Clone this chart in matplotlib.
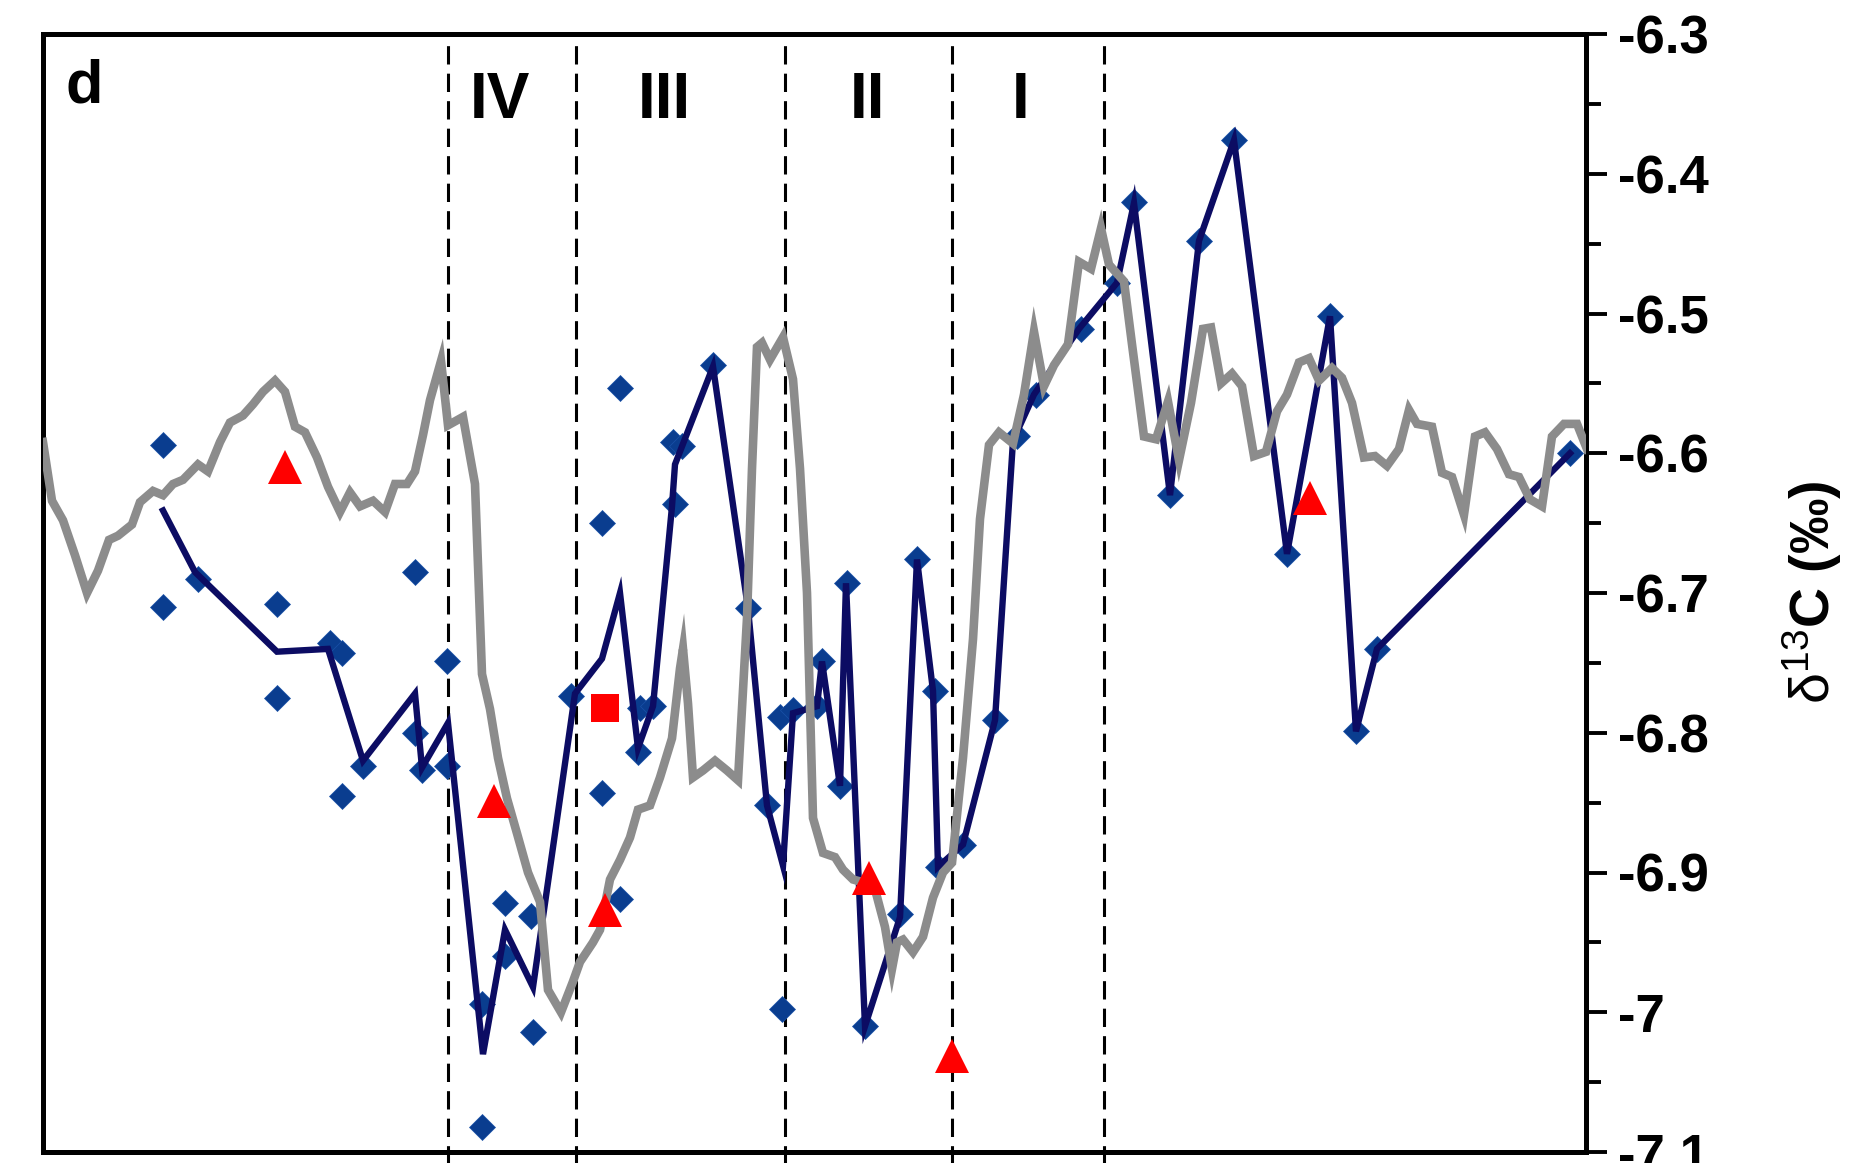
import matplotlib
matplotlib.use('Agg')
import matplotlib.pyplot as plt
from matplotlib.ticker import MultipleLocator, FuncFormatter

plt.rcParams['font.family'] = ['Liberation Sans', 'DejaVu Sans']
plt.rcParams['font.weight'] = 'bold'
plt.rcParams['axes.unicode_minus'] = False
plt.rcParams['mathtext.fontset'] = 'custom'
plt.rcParams['mathtext.rm'] = 'Liberation Sans:weight=normal'
plt.rcParams['mathtext.it'] = 'Liberation Sans:italic:weight=normal'
plt.rcParams['mathtext.bf'] = 'Liberation Sans:weight=bold'

# ---------------- data ----------------
gray_x = [0.0, 0.9, 2.0, 3.2, 4.4, 5.5, 6.6, 7.5, 8.9, 9.7,
          11.0, 12.0, 13.0, 14.0, 15.5, 16.5, 17.7, 18.7, 20.0, 21.0,
          22.0, 23.2, 24.2, 25.2, 26.2, 27.4, 28.5, 29.7, 30.7, 31.7,
          33.0, 34.2, 35.2, 36.4, 37.2, 38.0, 38.7, 39.8, 40.5, 42.0,
          43.2, 43.9, 44.7, 45.5, 46.4, 47.4, 48.5, 49.7, 50.5, 51.8,
          53.0, 53.7, 55.0, 55.7, 56.7, 57.7, 58.7, 59.5, 60.7, 61.7,
          62.9, 63.7, 64.0, 64.5, 65.0, 66.0, 67.2, 68.4, 69.5, 70.4,
          70.9, 71.4, 71.9, 72.7, 74.0, 75.0, 75.7, 76.4, 77.0, 78.0,
          79.2, 80.0, 81.0, 82.0, 83.2, 84.2, 84.9, 85.4, 86.0, 87.0,
          88.0, 89.0, 90.0, 90.9, 92.0, 93.0, 93.7, 94.6, 95.6, 97.0,
          98.1, 99.1, 100.1, 101.1, 102.5, 103.6, 104.8, 105.8, 106.6, 108.1,
          108.9, 110.1, 111.3, 112.5, 113.6, 114.8, 116.0, 116.8, 117.8, 118.9,
          119.9, 121.1, 122.3, 123.4, 124.4, 125.6, 126.6, 127.6, 128.9, 129.9,
          130.9, 132.1, 133.2, 134.4, 135.6, 136.6, 137.4, 138.9, 139.9, 140.9,
          142.1, 143.2, 144.2, 145.4, 146.6, 147.6, 148.7, 149.9, 150.9, 152.1,
          153.4, 154.4]
gray_y = [-6.592, -6.634, -6.648, -6.673, -6.700, -6.684, -6.662, -6.659, -6.651, -6.635,
          -6.627, -6.630, -6.622, -6.619, -6.608, -6.613, -6.592, -6.578, -6.573, -6.565,
          -6.556, -6.548, -6.556, -6.581, -6.585, -6.603, -6.624, -6.642, -6.628, -6.638,
          -6.634, -6.642, -6.622, -6.622, -6.613, -6.587, -6.562, -6.534, -6.580, -6.574,
          -6.622, -6.758, -6.783, -6.818, -6.847, -6.872, -6.900, -6.921, -6.984, -7.000,
          -6.978, -6.964, -6.950, -6.941, -6.905, -6.891, -6.875, -6.855, -6.852, -6.832,
          -6.804, -6.754, -6.740, -6.779, -6.832, -6.827, -6.820, -6.827, -6.834, -6.718,
          -6.611, -6.524, -6.521, -6.533, -6.517, -6.547, -6.611, -6.700, -6.861, -6.886,
          -6.889, -6.898, -6.905, -6.907, -6.912, -6.939, -6.969, -6.950, -6.948, -6.957,
          -6.946, -6.918, -6.900, -6.893, -6.818, -6.733, -6.647, -6.594, -6.585, -6.593,
          -6.558, -6.513, -6.552, -6.537, -6.522, -6.463, -6.468, -6.439, -6.465, -6.477,
          -6.522, -6.588, -6.590, -6.563, -6.605, -6.564, -6.511, -6.510, -6.550, -6.543,
          -6.552, -6.602, -6.599, -6.570, -6.558, -6.535, -6.532, -6.548, -6.539, -6.546,
          -6.564, -6.603, -6.602, -6.609, -6.597, -6.569, -6.579, -6.581, -6.614, -6.617,
          -6.644, -6.588, -6.585, -6.597, -6.615, -6.617, -6.633, -6.638, -6.588, -6.579,
          -6.579, -6.597]

navy_x = [12.0, 15.2, 23.4, 28.5, 32.0, 37.2, 37.9, 40.5, 44.0, 46.2,
          49.0, 53.2, 55.9, 57.7, 59.5, 61.0, 62.9, 63.2, 67.0, 70.5,
          72.4, 74.0, 75.0, 77.4, 77.9, 79.7, 80.3, 82.2, 85.7, 87.4,
          89.0, 89.5, 92.0, 95.2, 97.0, 99.1, 103.6, 107.4, 109.1, 112.7,
          115.6, 119.1, 124.4, 128.7, 131.3, 133.4, 152.7]
navy_y = [-6.641, -6.685, -6.742, -6.740, -6.820, -6.772, -6.825, -6.793, -7.030, -6.941,
          -6.982, -6.772, -6.747, -6.700, -6.811, -6.781, -6.638, -6.608, -6.538, -6.711,
          -6.852, -6.895, -6.786, -6.781, -6.749, -6.838, -6.693, -7.010, -6.932, -6.676,
          -6.770, -6.896, -6.880, -6.791, -6.591, -6.558, -6.511, -6.478, -6.421, -6.630,
          -6.448, -6.376, -6.672, -6.502, -6.799, -6.740, -6.600]

dia_x = [12.0, 12.0, 15.5, 23.4, 23.4, 28.7, 29.9, 29.9, 32.0, 37.2,
         37.2, 37.9, 40.4, 40.4, 43.9, 43.9, 46.2, 46.2, 48.8, 49.0,
         52.8, 55.9, 55.9, 57.7, 57.7, 59.5, 59.7, 61.0, 63.0, 63.9,
         63.2, 67.0, 70.5, 72.4, 73.9, 73.7, 75.0, 77.4, 77.9, 79.7,
         80.4, 82.2, 85.7, 87.4, 89.2, 89.5, 92.0, 95.2, 97.4, 99.3,
         103.8, 107.4, 109.1, 112.7, 115.6, 119.1, 124.4, 128.7, 131.3, 133.4,
         152.7]
dia_y = [-6.594, -6.710, -6.690, -6.708, -6.775, -6.736, -6.743, -6.845, -6.824, -6.685,
         -6.800, -6.827, -6.749, -6.824, -6.994, -7.082, -6.922, -6.960, -6.931, -7.014,
         -6.774, -6.650, -6.843, -6.553, -6.919, -6.814, -6.782, -6.781, -6.592, -6.595,
         -6.636, -6.537, -6.711, -6.852, -6.998, -6.789, -6.784, -6.781, -6.749, -6.838,
         -6.693, -7.010, -6.930, -6.676, -6.770, -6.896, -6.880, -6.791, -6.588, -6.558,
         -6.511, -6.478, -6.420, -6.630, -6.448, -6.376, -6.672, -6.502, -6.799, -6.740,
         -6.600]

tri_x = [24.2, 45.1, 56.2, 82.6, 90.9, 126.7]
tri_y = [-6.610, -6.849, -6.927, -6.904, -7.031, -6.632]

sq_x = [56.2]
sq_y = [-6.782]

boundaries = [40.5, 53.3, 74.2, 90.9, 106.1]
stage_labels = ['IV', 'III', 'II', 'I']
stage_x = [45.7, 62.1, 82.5, 97.8]

# ---------------- figure ----------------
W, H = 1857, 1163
fig = plt.figure(figsize=(W / 100, H / 100), dpi=100)
ax = fig.add_axes([43 / W, 1 - 1152 / H, (1586 - 43) / W, (1152 - 34) / H])

for b in boundaries:
    ax.axvline(b, ymin=-0.03, ymax=0.993, color='black', lw=2.2,
               linestyle=(0, (6.0, 3.0)), clip_on=False, zorder=1)

ax.plot(dia_x, dia_y, linestyle='none', marker='D', ms=13,
        color='#0a3d8f', mec='#1a52a8', mew=0.5, zorder=2)
ax.plot(navy_x, navy_y, color='#0c0c63', lw=4.6, zorder=3,
        solid_joinstyle='miter')
ax.plot(gray_x, gray_y, color='#8c8c8c', lw=6.2, zorder=4,
        solid_joinstyle='miter')
ax.plot(tri_x, tri_y, linestyle='none', marker='^', ms=25,
        color='#ff0000', mew=0, zorder=5)
ax.plot(sq_x, sq_y, linestyle='none', marker='s', ms=20,
        color='#ff0000', mew=0, zorder=5)

for lab, x in zip(stage_labels, stage_x):
    ax.text(x, 0.9405, lab, transform=ax.get_xaxis_transform(),
            ha='center', va='center', fontsize=46, fontweight='bold')
ax.text(0.0269, 0.9526, 'd', transform=ax.transAxes, ha='center',
        va='center', fontsize=44, fontweight='bold')

ax.set_xlim(0, 154.3)
ax.set_ylim(-7.1, -6.3)
ax.set_xticks([])
ax.yaxis.tick_right()
ax.yaxis.set_major_locator(MultipleLocator(0.1))
ax.yaxis.set_minor_locator(MultipleLocator(0.05))
ax.yaxis.set_major_formatter(FuncFormatter(lambda v, p: '%g' % round(v, 2)))
ax.tick_params(axis='y', which='major', direction='out', length=15,
               width=2.8, labelsize=38, pad=8, right=True, left=False)
ax.tick_params(axis='y', which='minor', direction='out', length=11,
               width=2.8, right=True, left=False)
for s in ax.spines.values():
    s.set_linewidth(3.6)

ax.yaxis.set_label_position('right')
ax.set_ylabel(r'$\mathrm{\delta^{13}}$C (‰)', fontsize=40,
              fontweight='bold', rotation=90)
ax.yaxis.label.set_va('center')
ax.yaxis.set_label_coords(1.1465, 0.501)

fig.savefig('out.png', dpi=100)
